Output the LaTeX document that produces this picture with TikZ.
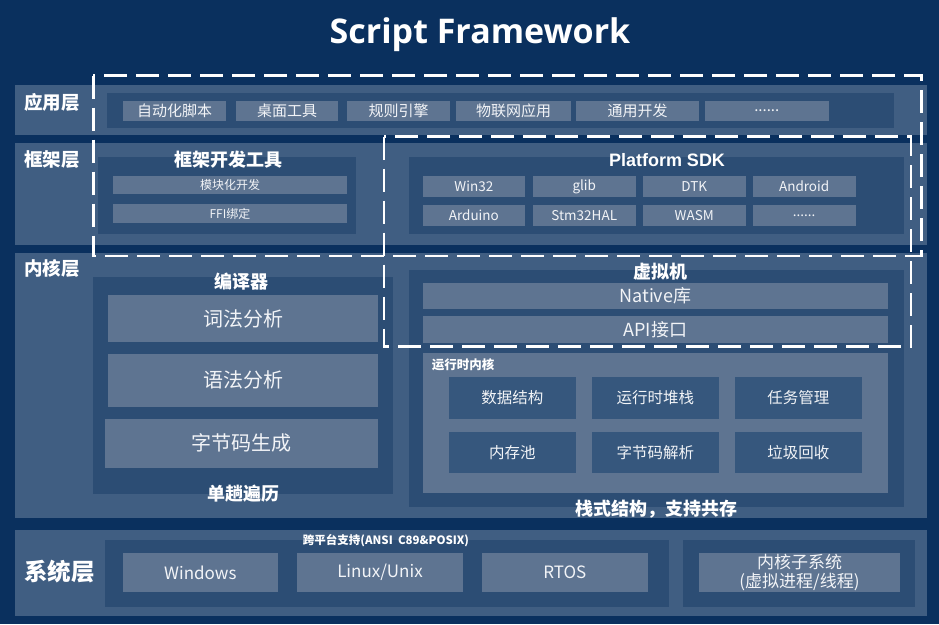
\documentclass[tikz,border=0pt]{standalone}
\usepackage{fontspec}
\setmainfont{Noto Sans CJK SC}
\newfontfamily\titlefont{Open Sans}
\newfontfamily\arialfont{Liberation Sans}
\definecolor{bgc}{HTML}{0A305E}
\definecolor{bandc}{HTML}{405E82}
\definecolor{contc}{HTML}{2C4D74}
\definecolor{boxc}{HTML}{5E7491}
\definecolor{rtc}{HTML}{36577D}
\definecolor{txtc}{HTML}{F2F4F7}
\newcommand{\fs}[1]{\fontsize{#1pt}{#1pt}\selectfont}
\newcommand{\blk}[7]{\node[#6, minimum width=#4pt, minimum height=#5pt] (#1) at (#2,#3) {#7};}
\tikzset{
  base/.style={inner sep=0pt, outer sep=0pt, anchor=north west, draw=none},
  band/.style={base, fill=bandc},
  cont/.style={base, fill=contc},
  lbox/.style={base, fill=boxc, text=txtc},
  rbox/.style={base, fill=rtc, text=txtc},
  dashbox/.style={draw=white, line width=2.5pt, dash pattern=on 23pt off 9pt},
  lay/.style={text=white, font=\bfseries\fs{18.5}, anchor=west, inner sep=0pt},
  ttl/.style={text=white, font=\bfseries\fs{18}, inner sep=0pt},
  appf/.style={font=\fs{15}},
  fwf/.style={font=\fs{12}},
  sdkf/.style={font=\fs{13.5}},
  cmpf/.style={font=\fs{20}},
  vmf/.style={font=\fs{18}},
  rtf/.style={font=\fs{15.5}},
  sysf/.style={font=\fs{17}},
}
\begin{document}
\begin{tikzpicture}[x=1pt, y=-1pt]
\useasboundingbox (0,0) rectangle (939,624);
\fill[bgc] (0,0) rectangle (939,624);
% title
\node[text=white, font=\titlefont\bfseries\fs{34}, inner sep=0pt, anchor=base] (title) at (480,43) {Script Framework};
% bands
\blk{appband}{15}{85}{912}{49.5}{band}{}
\blk{fwband}{15}{143}{912}{102}{band}{}
\blk{kband}{15}{252.7}{912}{265.3}{band}{}
\blk{sband}{15}{530}{912}{85.7}{band}{}
\node[lay] (l1) at (24,102) {应用层};
\node[lay] (l2) at (24,160) {框架层};
\node[lay] (l3) at (24,268.5) {内核层};
\node[lay, font=\bfseries\fs{23.5}] (l4) at (24,571.7) {系统层};
% application layer
\blk{appc}{107}{92.7}{787}{35.3}{cont}{}
\blk{a1}{123}{100.7}{103}{20.3}{lbox,appf}{自动化脚本}
\blk{a2}{236}{100.7}{102}{20.3}{lbox,appf}{桌面工具}
\blk{a3}{347}{100.7}{103}{20.3}{lbox,appf}{规则引擎}
\blk{a4}{456}{100.7}{115}{20.3}{lbox,appf}{物联网应用}
\blk{a5}{576}{100.7}{123}{20.3}{lbox,appf}{通用开发}
\blk{a6}{704.5}{100.7}{124.5}{20.3}{lbox,appf}{......}
% framework layer
\blk{fwc}{98}{157}{258}{77}{cont}{}
\node[ttl] (fwt) at (228,159.5) {框架开发工具};
\blk{f1}{113}{176}{234}{18}{lbox,fwf}{模块化开发}
\blk{f2}{113}{204}{234}{19}{lbox,fwf}{FFI绑定}
\blk{sdkc}{409}{157}{495}{77}{cont}{}
\node[ttl, font=\arialfont\bfseries\fs{18}] (sdkt) at (667,160) {Platform SDK};
\blk{s1}{422.6}{176}{102.5}{20.7}{lbox,sdkf}{Win32}
\blk{s2}{533}{176}{102.5}{20.7}{lbox,sdkf}{glib}
\blk{s3}{643}{176}{102.5}{20.7}{lbox,sdkf}{DTK}
\blk{s4}{752.8}{176}{102.7}{20.7}{lbox,sdkf}{Android}
\blk{s5}{422.6}{205}{102.5}{20.7}{lbox,sdkf}{Arduino}
\blk{s6}{533}{205}{102.5}{20.7}{lbox,sdkf}{Stm32HAL}
\blk{s7}{643}{205}{102.5}{20.7}{lbox,sdkf}{WASM}
\blk{s8}{752.8}{205}{102.7}{20.7}{lbox,sdkf}{......}
% kernel layer: compiler
\blk{cmpc}{93}{277}{300}{217}{cont}{}
\node[ttl] (cmpt) at (241,282) {编译器};
\blk{c1}{108}{295}{270}{47}{lbox,cmpf}{词法分析}
\blk{c2}{108}{353.7}{270}{53.3}{lbox,cmpf}{语法分析}
\blk{c3}{105}{418.7}{273}{49}{lbox,cmpf}{字节码生成}
\node[ttl] (cmpb) at (243,494) {单趟遍历};
% kernel layer: VM
\blk{vmc}{409}{270}{495}{236.7}{cont}{}
\node[ttl] (vmt) at (660,271.5) {虚拟机};
\blk{v1}{422.6}{282.7}{465.4}{26.6}{lbox,vmf}{Native库}
\blk{v2}{422.6}{316}{465.4}{26.7}{lbox,vmf}{API接口}
\blk{rtc0}{422.7}{353}{465.3}{139.7}{lbox}{}
\node[text=white, font=\bfseries\fs{12.5}, anchor=west, inner sep=0pt] (rtt) at (431.7,365) {运行时内核};
\blk{r1}{449}{377}{126.7}{42}{rbox,rtf}{数据结构}
\blk{r2}{592}{377}{126.7}{42}{rbox,rtf}{运行时堆栈}
\blk{r3}{735}{377}{126.7}{42}{rbox,rtf}{任务管理}
\blk{r4}{449}{432}{126.7}{41}{rbox,rtf}{内存池}
\blk{r5}{592}{432}{126.7}{41}{rbox,rtf}{字节码解析}
\blk{r6}{735}{432}{126.7}{41}{rbox,rtf}{垃圾回收}
\node[ttl] (vmb) at (656,509) {栈式结构，支持共存};
% system layer
\blk{xc}{105}{540}{564}{66.7}{cont}{}
\node[text=white, font=\bfseries\fs{11.5}, inner sep=0pt] (xt) at (386,541) {跨平台支持(ANSI\ \ C89\&POSIX)};
\blk{y1}{123}{553}{154.7}{38.7}{lbox,sysf}{Windows}
\blk{y2}{297}{553}{166}{38.7}{lbox,sysf}{Linux/Unix}
\blk{y3}{481.7}{553}{166.3}{38.7}{lbox,sysf}{RTOS}
\blk{kc}{683}{540}{231.7}{66.7}{cont}{}
\blk{kb}{699}{553}{201}{39}{lbox,sysf,align=center}{内核子系统\\[2pt](虚拟进程/线程)}
% dashed groupings
\draw[dashbox] (93.3,75.7) rectangle (921.7,256);
\draw[dashbox] (384,136.7) rectangle (911,346.7);
\end{tikzpicture}
\end{document}
